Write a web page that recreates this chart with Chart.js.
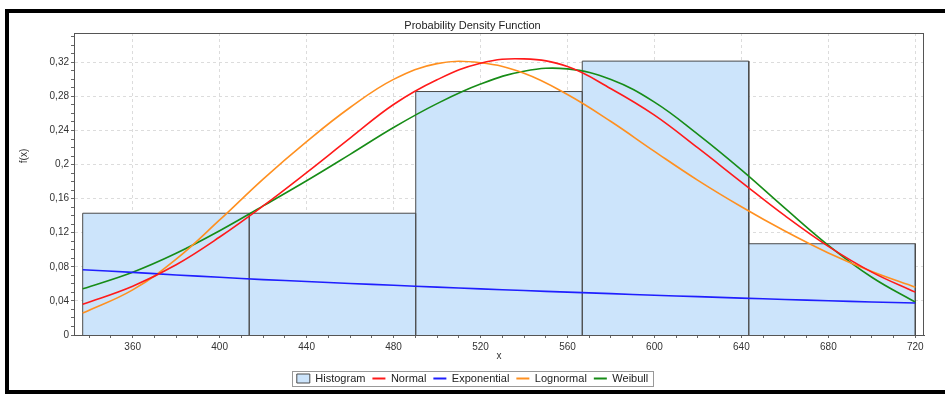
<!DOCTYPE html>
<html>
<head>
<meta charset="utf-8">
<title>Probability Density Function</title>
<script src="https://cdn.jsdelivr.net/npm/chart.js@4.4.1/dist/chart.umd.min.js"></script>
<style>
    html, body { margin: 0; padding: 0; background: #fff; }
    #wrap { position: relative; width: 945px; height: 394px; }
    #frame {
        position: absolute; left: 5px; top: 9px; width: 940px; height: 385px;
        box-sizing: border-box; border: 4px solid #000; border-right: none;
        pointer-events: none;
    }
</style>
</head>
<body>
<div id="wrap">
    <canvas id="pdf-chart" width="945" height="394"></canvas>
    <div id="frame"></div>
</div>
<script>
// Histogram (5 bins, edges and relative frequencies)
const binEdges = [337, 413.6, 490.2, 566.8, 643.4, 720];
const histHeights = [0.1429, 0.1429, 0.2857, 0.3214, 0.1071];

// Fitted curves
const curveX = [337, 360, 380, 400, 420, 440, 460, 480, 500, 520, 540, 560, 580, 600, 620, 640, 660, 680, 700, 720];
const normalY = [0.036, 0.0573, 0.0825, 0.115, 0.1515, 0.1906, 0.231, 0.2705, 0.2995, 0.319, 0.324, 0.315, 0.289, 0.258, 0.2195, 0.1795, 0.140, 0.104, 0.0738, 0.0503];
const exponentialY = [0.0765, 0.0735, 0.0705, 0.0677, 0.065, 0.0628, 0.0605, 0.0583, 0.0562, 0.0541, 0.0522, 0.0503, 0.0485, 0.0467, 0.045, 0.0433, 0.0417, 0.0402, 0.0387, 0.0375];
const lognormalY = [0.0257, 0.053, 0.089, 0.135, 0.183, 0.227, 0.267, 0.300, 0.3185, 0.3195, 0.3072, 0.2822, 0.2505, 0.2155, 0.1815, 0.1505, 0.122, 0.0963, 0.0745, 0.0561];
const weibullY = [0.0542, 0.0737, 0.0959, 0.1224, 0.1515, 0.181, 0.212, 0.2435, 0.2715, 0.2945, 0.3096, 0.3123, 0.2998, 0.2733, 0.2355, 0.1938, 0.1489, 0.1053, 0.0678, 0.0386];

// Axis ticks
const xMajorTicks = [360, 400, 440, 480, 520, 560, 600, 640, 680, 720];
const yMajorTicks = ['0', '0,04', '0,08', '0,12', '0,16', '0,2', '0,24', '0,28', '0,32'];

const FONT = 'Liberation Sans, Arial, sans-serif';

function toPoints(xs, ys) {
    return xs.map((x, i) => ({ x: x, y: ys[i] }));
}

// outline of the histogram: up, across, down for every bin
const histData = [];
histHeights.forEach(function(h, i) {
    histData.push({ x: binEdges[i], y: 0 }, { x: binEdges[i], y: h },
                  { x: binEdges[i + 1], y: h }, { x: binEdges[i + 1], y: 0 });
});

function curve(label, color, ys) {
    return {
        type: 'line',
        label: label,
        data: toPoints(curveX, ys),
        borderColor: color,
        backgroundColor: color,
        borderWidth: 1.6,
        pointRadius: 0,
        pointBorderWidth: 2,
        pointStyle: 'line',
        tension: 0.4,
        fill: false,
        order: 1
    };
}

// plot frame (top/right edges), y title and a box round the legend
const framePlugin = {
    id: 'framePlugin',
    afterDatasetsDraw(chart) {
        const a = chart.chartArea;
        const ctx = chart.ctx;
        ctx.save();
        ctx.strokeStyle = '#555';
        ctx.lineWidth = 1;
        ctx.strokeRect(a.left + 0.5, a.top + 0.5, a.right - a.left - 1, a.bottom - a.top);
        ctx.restore();
    },
    afterDraw(chart) {
        const ctx = chart.ctx;

        // y axis title sits a bit above the middle of the plot
        ctx.save();
        ctx.translate(24.5, 156);
        ctx.rotate(-Math.PI / 2);
        ctx.font = '10px ' + FONT;
        ctx.fillStyle = '#333';
        ctx.textAlign = 'center';
        ctx.textBaseline = 'middle';
        ctx.fillText('f(x)', 0, 0);
        ctx.restore();

        const boxes = chart.legend.legendHitBoxes;
        if (!boxes || !boxes.length) return;
        const left = Math.min(...boxes.map(b => b.left)) - 5;
        const right = Math.max(...boxes.map(b => b.left + b.width)) + 5;
        const top = Math.min(...boxes.map(b => b.top)) - 2;
        const bottom = Math.max(...boxes.map(b => b.top + b.height)) + 2;
        ctx.save();
        ctx.strokeStyle = '#999';
        ctx.lineWidth = 1;
        ctx.strokeRect(Math.round(left) + 0.5, Math.round(top) + 0.5, Math.round(right - left), Math.round(bottom - top));
        ctx.restore();
    }
};

document.addEventListener('DOMContentLoaded', function() {
    const canvas = document.getElementById('pdf-chart');

    new Chart(canvas, {
        type: 'line',
        data: {
            datasets: [
                {
                    label: 'Histogram',
                    data: histData,
                    backgroundColor: '#cce4fb',
                    borderColor: '#4a4a4a',
                    borderWidth: 1,
                    tension: 0,
                    pointRadius: 0,
                    pointBorderWidth: 1,
                    pointStyle: 'rect',
                    fill: 'origin',
                    order: 5
                },
                curve('Normal', '#ff1a1a', normalY),
                curve('Exponential', '#1f1fff', exponentialY),
                curve('Lognormal', '#ff9020', lognormalY),
                curve('Weibull', '#178c17', weibullY)
            ]
        },
        options: {
            responsive: false,
            animation: false,
            layout: { padding: { top: 10, right: 21, bottom: 0, left: 21 } },
            plugins: {
                title: {
                    display: true,
                    text: 'Probability Density Function',
                    color: '#222',
                    font: { family: FONT, size: 11, weight: 'normal' },
                    padding: { top: 9, bottom: 0.8 }
                },
                legend: {
                    position: 'bottom',
                    labels: {
                        usePointStyle: true,
                        pointStyleWidth: 13,
                        boxHeight: 9,
                        padding: 7,
                        color: '#222',
                        font: { family: FONT, size: 11 },
                        sort: (a, b) => a.datasetIndex - b.datasetIndex
                    }
                },
                tooltip: { enabled: false }
            },
            scales: {
                x: {
                    type: 'linear',
                    min: 333,
                    max: 724,
                    afterBuildTicks: function(scale) {
                        const ticks = [];
                        for (let v = 340; v <= 720; v += 10) ticks.push({ value: v });
                        scale.ticks = ticks;
                    },
                    afterFit: function(scale) { scale.height = 31; },
                    ticks: {
                        autoSkip: false,
                        maxRotation: 0,
                        padding: 3,
                        color: '#333',
                        font: { family: FONT, size: 10 },
                        callback: v => xMajorTicks.includes(v) ? String(v) : ''
                    },
                    grid: {
                        color: c => (c.tick && xMajorTicks.includes(c.tick.value)) ? '#dcdcdc' : 'rgba(0,0,0,0)',
                        tickColor: '#666',
                        tickLength: 3
                    },
                    border: { color: '#555', dash: [3, 3] },
                    title: {
                        display: true,
                        text: 'x',
                        color: '#333',
                        font: { family: FONT, size: 10 },
                        padding: { top: 0, bottom: 4 }
                    }
                },
                y: {
                    type: 'linear',
                    min: 0,
                    max: 0.3544,
                    afterBuildTicks: function(scale) {
                        const ticks = [];
                        for (let k = 0; k <= 35; k++) ticks.push({ value: k / 100 });
                        scale.ticks = ticks;
                    },
                    afterFit: function(scale) { scale.width = 53; },
                    ticks: {
                        autoSkip: false,
                        padding: 2,
                        color: '#333',
                        font: { family: FONT, size: 10 },
                        callback: function(v, i) { return i % 4 === 0 ? yMajorTicks[i / 4] : ''; }
                    },
                    grid: {
                        color: c => (c.index % 4 === 0 && c.index > 0) ? '#dcdcdc' : 'rgba(0,0,0,0)',
                        tickColor: '#666',
                        tickLength: 3
                    },
                    border: { color: '#555', dash: [3, 3] }
                }
            }
        },
        plugins: [framePlugin]
    });
});
</script>
</body>
</html>
